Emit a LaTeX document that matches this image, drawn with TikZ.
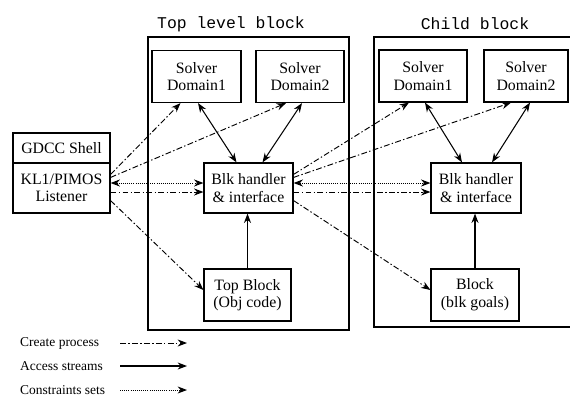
\documentclass[tikz,border=0pt]{standalone}
\usepackage{fontspec}
\setmainfont{Liberation Serif}
\setmonofont{Liberation Mono}
\usepackage{tikz}
\usetikzlibrary{arrows.meta, calc}
\tikzset{
  procbox/.style={
    draw, line width=1pt, align=center, inner sep=1pt,
    font=\fontsize{13.5}{15}\selectfont, fill=white
  },
  frametitle/.style={
    font=\ttfamily\fontsize{14}{16}\selectfont
  },
  legendlabel/.style={
    font=\fontsize{11.5}{13}\selectfont, anchor=west, inner sep=0pt
  },
  createarrow/.style={
    -{Stealth[length=8pt, width=6pt]}, line width=0.8pt,
    dash pattern=on 5pt off 2pt on 1.2pt off 2pt
  },
  accessarrow/.style={
    -{Stealth[length=8pt, width=6pt]}, line width=0.9pt
  },
  accessboth/.style={
    {Stealth[length=8pt, width=6pt]}-{Stealth[length=8pt, width=6pt]},
    line width=0.9pt
  },
  constrarrow/.style={
    {Stealth[length=8pt, width=6pt]}-{Stealth[length=8pt, width=6pt]},
    line width=0.8pt, densely dotted
  },
}
\begin{document}
\begin{tikzpicture}[x=0.03cm, y=-0.03cm]
  \useasboundingbox (0,0) rectangle (570,396);

  % Block frames
  \draw[line width=0.9pt] (148,37) rectangle (349,330);
  \draw[line width=0.9pt] (571,37) -- (374,37) -- (374,327) -- (571,327);
  \node[frametitle] (toptitle) at (231,24) {Top level block};
  \node[frametitle] (childtitle) at (475,24) {Child block};

  % Shell
  \node[procbox, minimum width=2.91cm, minimum height=0.9cm] (shell)
    at (61.5,148) {GDCC Shell};
  \node[procbox, minimum width=2.91cm, minimum height=1.5cm] (lst)
    at (61.5,188) {KL1/PIMOS\\Listener};

  % Top level block
  \node[procbox, minimum width=2.67cm, minimum height=1.56cm] (sd1)
    at (196.5,76.5) {Solver\\Domain1};
  \node[procbox, minimum width=2.64cm, minimum height=1.56cm] (sd2)
    at (300,76.5) {Solver\\Domain2};
  \node[procbox, minimum width=2.67cm, minimum height=1.5cm] (bh)
    at (248.5,188) {Blk handler\\\& interface};
  \node[procbox, minimum width=2.61cm, minimum height=1.56cm] (tb)
    at (247.5,295) {Top Block\\(Obj code)};

  % Child block
  \node[procbox, minimum width=2.64cm, minimum height=1.56cm] (csd1)
    at (423,76) {Solver\\Domain1};
  \node[procbox, minimum width=2.52cm, minimum height=1.56cm] (csd2)
    at (526,76) {Solver\\Domain2};
  \node[procbox, minimum width=2.7cm, minimum height=1.5cm] (cbh)
    at (476,188) {Blk handler\\\& interface};
  \node[procbox, minimum width=2.64cm, minimum height=1.56cm] (cb)
    at (475,295) {Block\\(blk goals)};

  % Create process
  \draw[createarrow] ($(lst.north east)+(0,12)$) -- ($(sd1.south)+(-16,0)$);
  \draw[createarrow] ($(lst.north east)+(0,15)$) -- ($(sd2.south)+(-14,0)$);
  \draw[createarrow] ($(lst.east)+(0,4)$) -- ($(bh.west)+(0,4)$);
  \draw[createarrow] ($(lst.south east)+(0,-13)$) -- ($(tb.west)+(0,-5)$);
  \draw[createarrow] ($(bh.north east)+(0,12)$) -- ($(csd1.south)+(-14,0)$);
  \draw[createarrow] ($(bh.north east)+(0,15)$) -- ($(csd2.south)+(-15,0)$);
  \draw[createarrow] ($(bh.east)+(0,4)$) -- ($(cbh.west)+(0,4)$);
  \draw[createarrow] ($(bh.south east)+(0,-13)$) -- ($(cb.west)+(0,-5)$);

  % Constraints sets
  \draw[constrarrow] ($(lst.east)+(0,-5)$) -- ($(bh.west)+(0,-5)$);
  \draw[constrarrow] ($(bh.east)+(0,-5)$) -- ($(cbh.west)+(0,-5)$);

  % Access streams
  \draw[accessboth] ($(sd1.south)+(1.5,0)$) -- ($(bh.north)+(-12,0)$);
  \draw[accessboth] ($(sd2.south)+(2,0)$) -- ($(bh.north)+(14,0)$);
  \draw[accessboth] ($(csd1.south)+(2,0)$) -- ($(cbh.north)+(-14,0)$);
  \draw[accessboth] ($(csd2.south)+(4,0)$) -- ($(cbh.north)+(16,0)$);
  \draw[accessarrow] (tb.north) -- (tb.north |- bh.south);
  \draw[accessarrow] (cb.north) -- (cb.north |- cbh.south);

  % Legend
  \node[legendlabel] (lcp) at (20,343) {Create process};
  \node[legendlabel] (las) at (20,366) {Access streams};
  \node[legendlabel] (lcs) at (20,390) {Constraints sets};
  \coordinate (lcpend) at (187,343);
  \coordinate (lasend) at (187,366);
  \coordinate (lcsend) at (187,390);
  \draw[createarrow] (lcp.east -| 120,0) -- (lcpend);
  \draw[accessarrow] (las.east -| 120,0) -- (lasend);
  \draw[-{Stealth[length=8pt, width=6pt]}, line width=0.8pt, densely dotted]
    (lcs.east -| 120,0) -- (lcsend);
\end{tikzpicture}
\end{document}
